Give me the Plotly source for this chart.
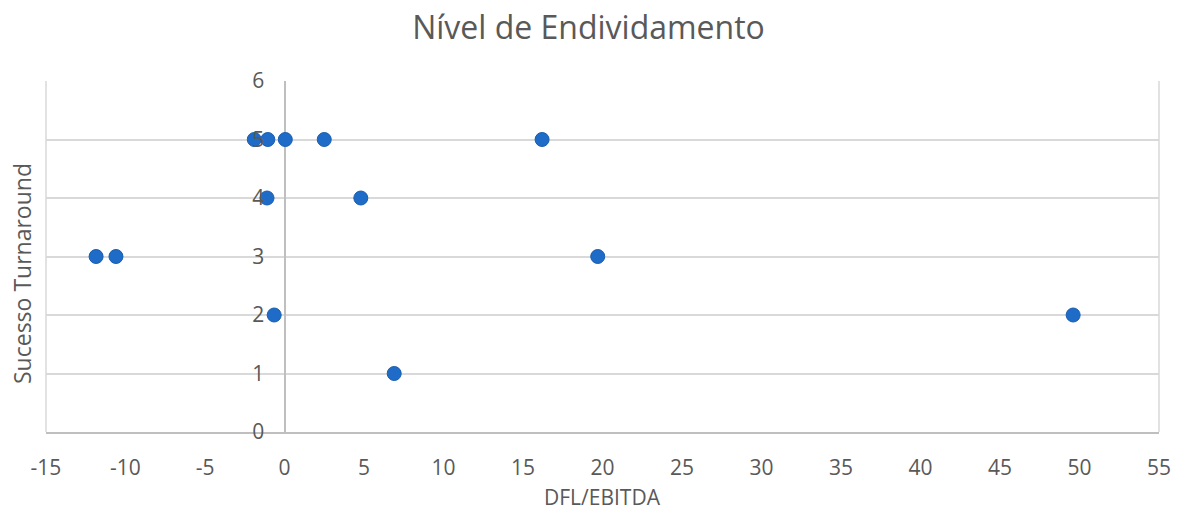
import plotly.graph_objects as go

# DFL/EBITDA ratio vs. turnaround success score
dfl_ebitda = [-1.9, -1.05, 0.05, 2.5, 16.2, -1.1, 4.8, -11.85, -10.6, 19.7, -0.65, 49.6, 6.9]
sucesso = [5, 5, 5, 5, 5, 4, 4, 3, 3, 3, 2, 2, 1]

x_ticks = list(range(-15, 60, 5))
y_ticks = list(range(0, 7))

X_MIN, X_MAX = -15, 55
Y_MIN, Y_MAX = 0, 6

FONT = "Open Sans"
TEXT = "#595959"
GRID = "#d9d9d9"
AXIS = "#bfbfbf"

fig = go.Figure()

fig.add_trace(go.Scatter(
    x=dfl_ebitda,
    y=sucesso,
    mode="markers",
    marker=dict(size=14, color="#1E6CC8", line=dict(color="#1A5DAE", width=1)),
    showlegend=False,
    cliponaxis=False,
))

# y axis crosses the x axis at x = 0
y_pos = (0 - X_MIN) / (X_MAX - X_MIN)

fig.update_layout(
    width=1177,
    height=511,
    margin=dict(l=46, r=18, t=81, b=79, autoexpand=False),
    paper_bgcolor="white",
    plot_bgcolor="white",
    font=dict(family=FONT, color=TEXT, size=21),
    title=dict(
        text="Nível de Endividamento",
        x=0.5, xanchor="center",
        y=1 - 28 / 511, yanchor="middle",
        font=dict(family=FONT, size=32, color=TEXT),
    ),
    xaxis=dict(
        range=[X_MIN, X_MAX],
        tickvals=x_ticks,
        ticktext=[str(v) for v in x_ticks],
        showgrid=False,
        zeroline=True,
        zerolinecolor=AXIS,
        zerolinewidth=1.5,
        showline=True,
        linecolor=AXIS,
        linewidth=1.5,
        mirror=False,
        automargin=False,
        ticks="outside",
        ticklen=16,
        tickcolor="rgba(0,0,0,0)",
        tickfont=dict(family=FONT, size=21, color=TEXT),
    ),
    yaxis=dict(
        range=[Y_MIN, Y_MAX],
        tickvals=y_ticks,
        showgrid=True,
        gridcolor=GRID,
        gridwidth=1.5,
        zeroline=False,
        showline=False,
        automargin=False,
        anchor="free",
        position=y_pos,
        ticks="outside",
        ticklen=16,
        tickcolor="rgba(0,0,0,0)",
        tickfont=dict(family=FONT, size=21, color=TEXT),
    ),
    shapes=[
        dict(type="line", xref="paper", yref="paper", x0=0, x1=0, y0=0, y1=1,
             line=dict(color=GRID, width=1.5)),
        dict(type="line", xref="paper", yref="paper", x0=1, x1=1, y0=0, y1=1,
             line=dict(color=GRID, width=1.5)),
    ],
    annotations=[
        dict(text="DFL/EBITDA", xref="paper", yref="paper", x=0.5, y=-65 / 351,
             xanchor="center", yanchor="middle", showarrow=False,
             font=dict(family=FONT, size=21, color=TEXT)),
        dict(text="Sucesso Turnaround", xref="paper", yref="paper",
             x=-24 / 1113, y=(432 - 274) / 351, xanchor="center", yanchor="middle",
             textangle=-90, showarrow=False,
             font=dict(family=FONT, size=23, color=TEXT)),
    ],
)

fig.write_html("out.html")
